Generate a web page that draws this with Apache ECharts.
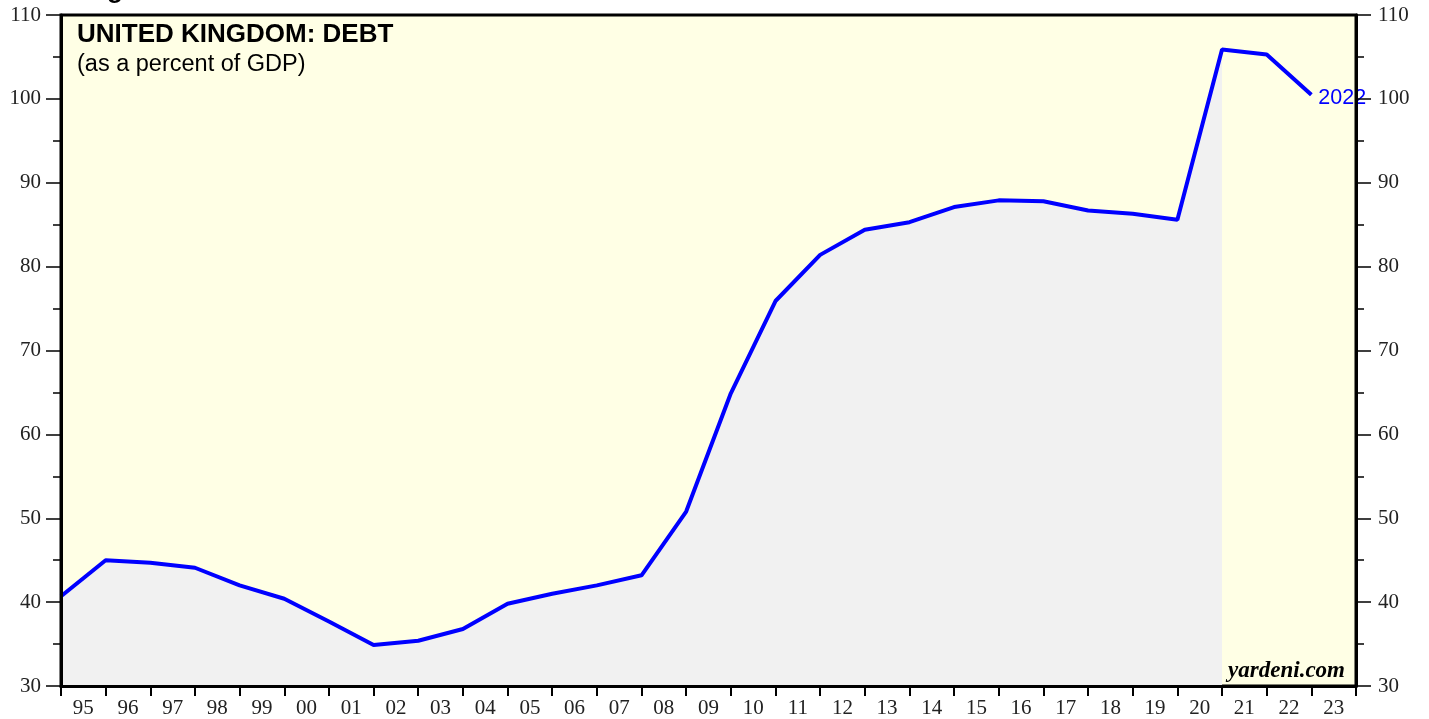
<!DOCTYPE html>
<html>
<head>
<meta charset="utf-8">
<title>United Kingdom: Debt</title>
<script src="https://cdn.jsdelivr.net/npm/echarts@6/dist/echarts.min.js"></script>
<style>
  html, body { margin: 0; padding: 0; background: #fff; }
  #chart { width: 1429px; height: 719px; }
</style>
</head>
<body>
<div id="chart"></div>
<script>
// debt as % of GDP, plotted at the end of each year
const years = [1994, 1995, 1996, 1997, 1998, 1999, 2000, 2001, 2002, 2003, 2004,
  2005, 2006, 2007, 2008, 2009, 2010, 2011, 2012, 2013, 2014, 2015, 2016,
  2017, 2018, 2019, 2020, 2021, 2022];
const debt = [40.7, 45.0, 44.7, 44.1, 42.0, 40.4, 37.7, 34.9, 35.4, 36.8, 39.8,
  41.0, 42.0, 43.2, 50.8, 64.9, 75.9, 81.4, 84.4, 85.3, 87.1, 87.9, 87.8,
  86.7, 86.3, 85.6, 105.9, 105.3, 100.5];
const shadeUntil = 2020; // grey fill stops here
const yearLabels = ['95', '96', '97', '98', '99', '00', '01', '02', '03', '04',
  '05', '06', '07', '08', '09', '10', '11', '12', '13', '14', '15', '16', '17',
  '18', '19', '20', '21', '22', '23'];

const linePts = years.map((y, i) => [y + 1, debt[i]]);
const shadePts = linePts.filter((p, i) => years[i] <= shadeUntil);

const chart = echarts.init(document.getElementById('chart'));

const yAxisCommon = {
  type: 'value',
  min: 30,
  max: 110,
  interval: 10,
  z: 5,
  axisLine: { show: true, lineStyle: { color: '#000', width: 3 } },
  axisTick: { show: true, length: 15, lineStyle: { color: '#000', width: 1.5 } },
  minorTick: { show: true, splitNumber: 2, length: 8, lineStyle: { color: '#000', width: 1.5 } },
  splitLine: { show: false },
  axisLabel: { fontFamily: 'Liberation Serif', fontSize: 21, color: '#222' }
};

chart.setOption({
  animation: false,
  grid: {
    left: 61, right: 73, top: 15, bottom: 30,
    show: true,
    backgroundColor: '#FFFFE5',
    borderColor: '#000',
    borderWidth: 3
  },
  xAxis: [
    {
      type: 'value',
      min: 1995,
      max: 2024,
      interval: 1,
      axisLine: { show: false },
      axisTick: { show: false },
      axisLabel: { show: false },
      splitLine: { show: false }
    },
    {
      type: 'category',
      position: 'bottom',
      data: yearLabels,
      boundaryGap: true,
      z: 5,
      axisLine: { show: true, lineStyle: { color: '#000', width: 3 } },
      axisTick: { show: true, interval: 0, length: 10, lineStyle: { color: '#000', width: 2 } },
      axisLabel: { interval: 0, margin: 12, fontFamily: 'Liberation Serif', fontSize: 21, color: '#222' }
    }
  ],
  yAxis: [
    Object.assign({}, yAxisCommon, { position: 'left', axisLabel: Object.assign({}, yAxisCommon.axisLabel, { margin: 20 }) }),
    Object.assign({}, yAxisCommon, { position: 'right', axisLabel: Object.assign({}, yAxisCommon.axisLabel, { margin: 22 }) })
  ],
  series: [
    {
      type: 'line',
      xAxisIndex: 0,
      data: shadePts,
      symbol: 'none',
      lineStyle: { width: 0, opacity: 0 },
      areaStyle: { color: '#F1F1F1', opacity: 1, origin: 'start' },
      z: 1
    },
    {
      type: 'line',
      xAxisIndex: 0,
      data: linePts,
      symbol: 'none',
      lineStyle: { color: '#0000FF', width: 4 },
      z: 3,
      endLabel: {
        show: true,
        formatter: '2022',
        color: '#0000FF',
        fontFamily: 'Liberation Sans',
        fontSize: 21.5,
        distance: 7,
        offset: [0, 3]
      }
    }
  ],
  graphic: [
    {
      type: 'text',
      left: 84,
      top: -22,
      style: { text: 'Figure', fontFamily: 'Liberation Sans', fontWeight: 'bold', fontSize: 26, fill: '#000' }
    },
    {
      type: 'text',
      left: 77,
      top: 22,
      style: { text: 'UNITED KINGDOM: DEBT', fontFamily: 'Liberation Sans', fontWeight: 'bold', fontSize: 26, fill: '#000' }
    },
    {
      type: 'text',
      left: 77,
      top: 53,
      style: { text: '(as a percent of GDP)', fontFamily: 'Liberation Sans', fontSize: 23.5, fill: '#000' }
    },
    {
      type: 'text',
      right: 84,
      top: 660,
      style: { text: 'yardeni.com', fontFamily: 'Liberation Serif', fontWeight: 'bold', fontStyle: 'italic', fontSize: 23, fill: '#000' }
    }
  ]
});
</script>
</body>
</html>
